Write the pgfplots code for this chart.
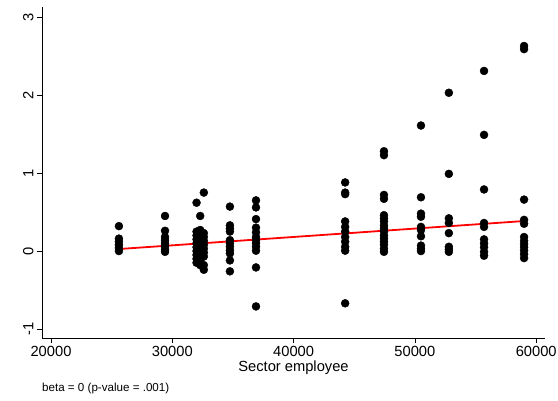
\documentclass[border=0pt]{standalone}
\usepackage{pgfplots}
\pgfplotsset{compat=1.18}
\usepackage{fontspec}
\setmainfont{Liberation Sans}
\begin{document}
\begin{tikzpicture}
\useasboundingbox (0,0) rectangle (558pt,400pt);
\begin{axis}[
 at={(42pt,62pt)}, anchor=south west, scale only axis,
 width=503pt, height=331pt,
 xmin=19258, xmax=60725, ymin=-1.115, ymax=3.13,
 axis x line=bottom, axis y line=left,
 axis line style={-, line width=0.8pt, black},
 tick align=outside, major tick length=5pt,
 tick style={line width=0.8pt, black},
 scaled x ticks=false, scaled y ticks=false,
 xtick={20000,30000,40000,50000,60000},
 xticklabels={20000,30000,40000,50000,60000},
 ytick={-1,0,1,2,3},
 yticklabels={-1,0,1,2,3},
 ticklabel style={font=\fontsize{14.7}{17}\selectfont},
 yticklabel style={rotate=90, anchor=south},
 xlabel={Sector employee},
 xlabel style={at={(axis description cs:0.5,0)}, anchor=north, yshift=-19pt, font=\fontsize{14.7}{17}\selectfont},
 clip=false,
]
\addplot[only marks, mark=*, mark size=4pt, black] table {
x y
25600 0.32
25600 0.16
25600 0.12
25600 0.08
25600 0.04
25600 0.00
29400 0.45
29400 0.26
29400 0.18
29400 0.14
29400 0.10
29400 0.06
29400 0.02
29400 -0.01
32000 0.62
32000 0.25
32000 0.20
32000 0.15
32000 0.10
32000 0.05
32000 0.00
32000 -0.05
32000 -0.10
32000 -0.15
32300 0.45
32300 0.27
32300 0.22
32300 0.17
32300 0.12
32300 0.07
32300 0.02
32300 -0.03
32300 -0.08
32300 -0.12
32300 -0.18
32600 0.75
32600 0.23
32600 0.18
32600 0.13
32600 0.08
32600 0.03
32600 -0.02
32600 -0.07
32600 -0.18
32600 -0.24
34750 0.57
34750 0.33
34750 0.29
34750 0.25
34750 0.14
34750 0.10
34750 0.055
34750 0.01
34750 -0.03
34750 -0.12
34750 -0.26
36900 0.65
36900 0.56
36900 0.41
36900 0.30
36900 0.24
36900 0.18
36900 0.14
36900 0.10
36900 0.055
36900 0.005
36900 -0.21
36900 -0.71
44250 0.88
44250 0.75
44250 0.73
44250 0.38
44250 0.31
44250 0.25
44250 0.18
44250 0.12
44250 0.055
44250 0.005
44250 -0.67
47450 1.28
47450 1.23
47450 0.72
47450 0.67
47450 0.46
47450 0.42
47450 0.38
47450 0.33
47450 0.29
47450 0.25
47450 0.20
47450 0.16
47450 0.12
47450 0.08
47450 0.03
47450 -0.01
50500 1.61
50500 0.69
50500 0.48
50500 0.44
50500 0.31
50500 0.27
50500 0.19
50500 0.07
50500 0.03
50500 0.00
52800 2.03
52800 0.99
52800 0.42
52800 0.36
52800 0.23
52800 0.055
52800 0.02
52800 -0.01
55700 2.31
55700 1.49
55700 0.79
55700 0.36
55700 0.31
55700 0.15
55700 0.10
55700 0.05
55700 -0.01
55700 -0.06
59000 2.63
59000 2.59
59000 0.66
59000 0.40
59000 0.35
59000 0.18
59000 0.13
59000 0.09
59000 0.05
59000 0.005
59000 -0.04
59000 -0.09
};
\addplot[red, line width=1.8pt] coordinates {(25600,0.026) (59000,0.385)};
\node[anchor=west, inner sep=0pt, font=\fontsize{11.6}{13}\selectfont] at (rel axis cs:0,0) [yshift=-50pt] {beta = 0 (p-value = .001)};
\end{axis}
\end{tikzpicture}
\end{document}
